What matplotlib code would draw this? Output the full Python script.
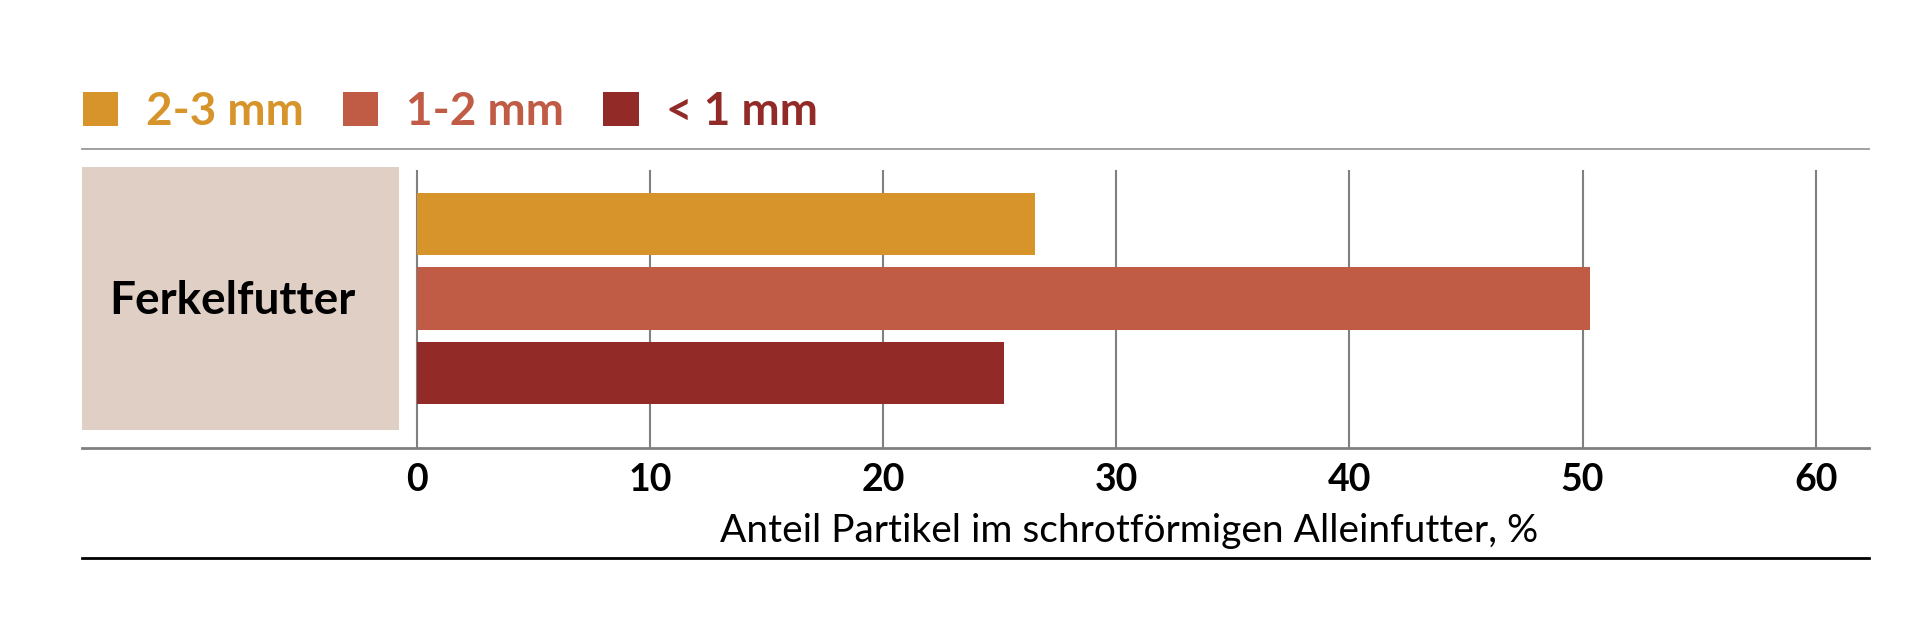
import matplotlib.pyplot as plt
from matplotlib.patches import Rectangle

# Daten
category = "Ferkelfutter"
sizes = ["2-3 mm", "1-2 mm", "< 1 mm"]
shares = [26.5, 50.3, 25.2]
ticks = [0, 10, 20, 30, 40, 50, 60]
xlabel = "Anteil Partikel im schrotförmigen Alleinfutter, %"

colors = ["#D6942A", "#C05B45", "#922A28"]
beige = "#E0CFC4"
grey = "#808080"

plt.rcParams["font.family"] = ["Lato", "DejaVu Sans"]

W, H = 1919, 637
fig = plt.figure(figsize=(W / 100, H / 100), dpi=100)

# Achse in Pixelkoordinaten des Bildes
left, right, top, bottom = 81.7, 1869, 149, 448
ax = fig.add_axes([left / W, 1 - bottom / H, (right - left) / W, (bottom - top) / H])

px_per_unit = (1815.7 - 416.7) / 60
ax.set_xlim(-(416.7 - left) / px_per_unit, (right - 416.7) / px_per_unit)
ax.set_ylim(3.0, -1.0)

grid_top = (bottom - 171) / (bottom - top)
for t in ticks:
    ax.axvline(t, ymin=0, ymax=grid_top, color=grey, lw=1.5, zorder=1)

for i, (lab, val, c) in enumerate(zip(sizes, shares, colors)):
    ax.barh(i, val, height=0.83, color=c, label=lab, zorder=2)

# Kategoriefeld
x0 = ax.get_xlim()[0]
x1 = (399 - 416.7) / px_per_unit
ax.add_patch(Rectangle((x0, -0.758), x1 - x0, 3.52, facecolor=beige, edgecolor="none", zorder=1))
ax.text((x0 + x1) / 2 - 0.35, 1.03, category, ha="center", va="center",
        fontsize=33, fontweight="bold", color="black", zorder=3)

ax.set_xticks(ticks)
ax.set_xticklabels([str(t) for t in ticks], fontsize=27, fontweight="bold")
ax.tick_params(axis="x", length=0, pad=11)
ax.set_yticks([])

for s in ["left", "right"]:
    ax.spines[s].set_visible(False)
ax.spines["top"].set_color("#999999")
ax.spines["top"].set_linewidth(1.3)
ax.spines["bottom"].set_color(grey)
ax.spines["bottom"].set_linewidth(2)

ax.set_xlabel(xlabel, fontsize=28)
ax.xaxis.set_label_coords((1129.5 - left) / (right - left), -(542 - bottom) / (bottom - top))
ax.xaxis.label.set_verticalalignment("baseline")

# untere schwarze Linie
ax.plot([0, 1], [-(558.3 - bottom) / (bottom - top)] * 2, transform=ax.transAxes,
        color="black", lw=2, clip_on=False)

leg = fig.legend(loc="lower left", bbox_to_anchor=(83 / W, 1 - 133 / H), ncol=3,
                 frameon=False, prop={"size": 33, "weight": "bold"},
                 labelcolor="linecolor", handlelength=0.77, handleheight=0.77,
                 handletextpad=0.6, columnspacing=0.86, borderpad=0, borderaxespad=0)

fig.savefig("out.png", dpi=100, facecolor="white")
